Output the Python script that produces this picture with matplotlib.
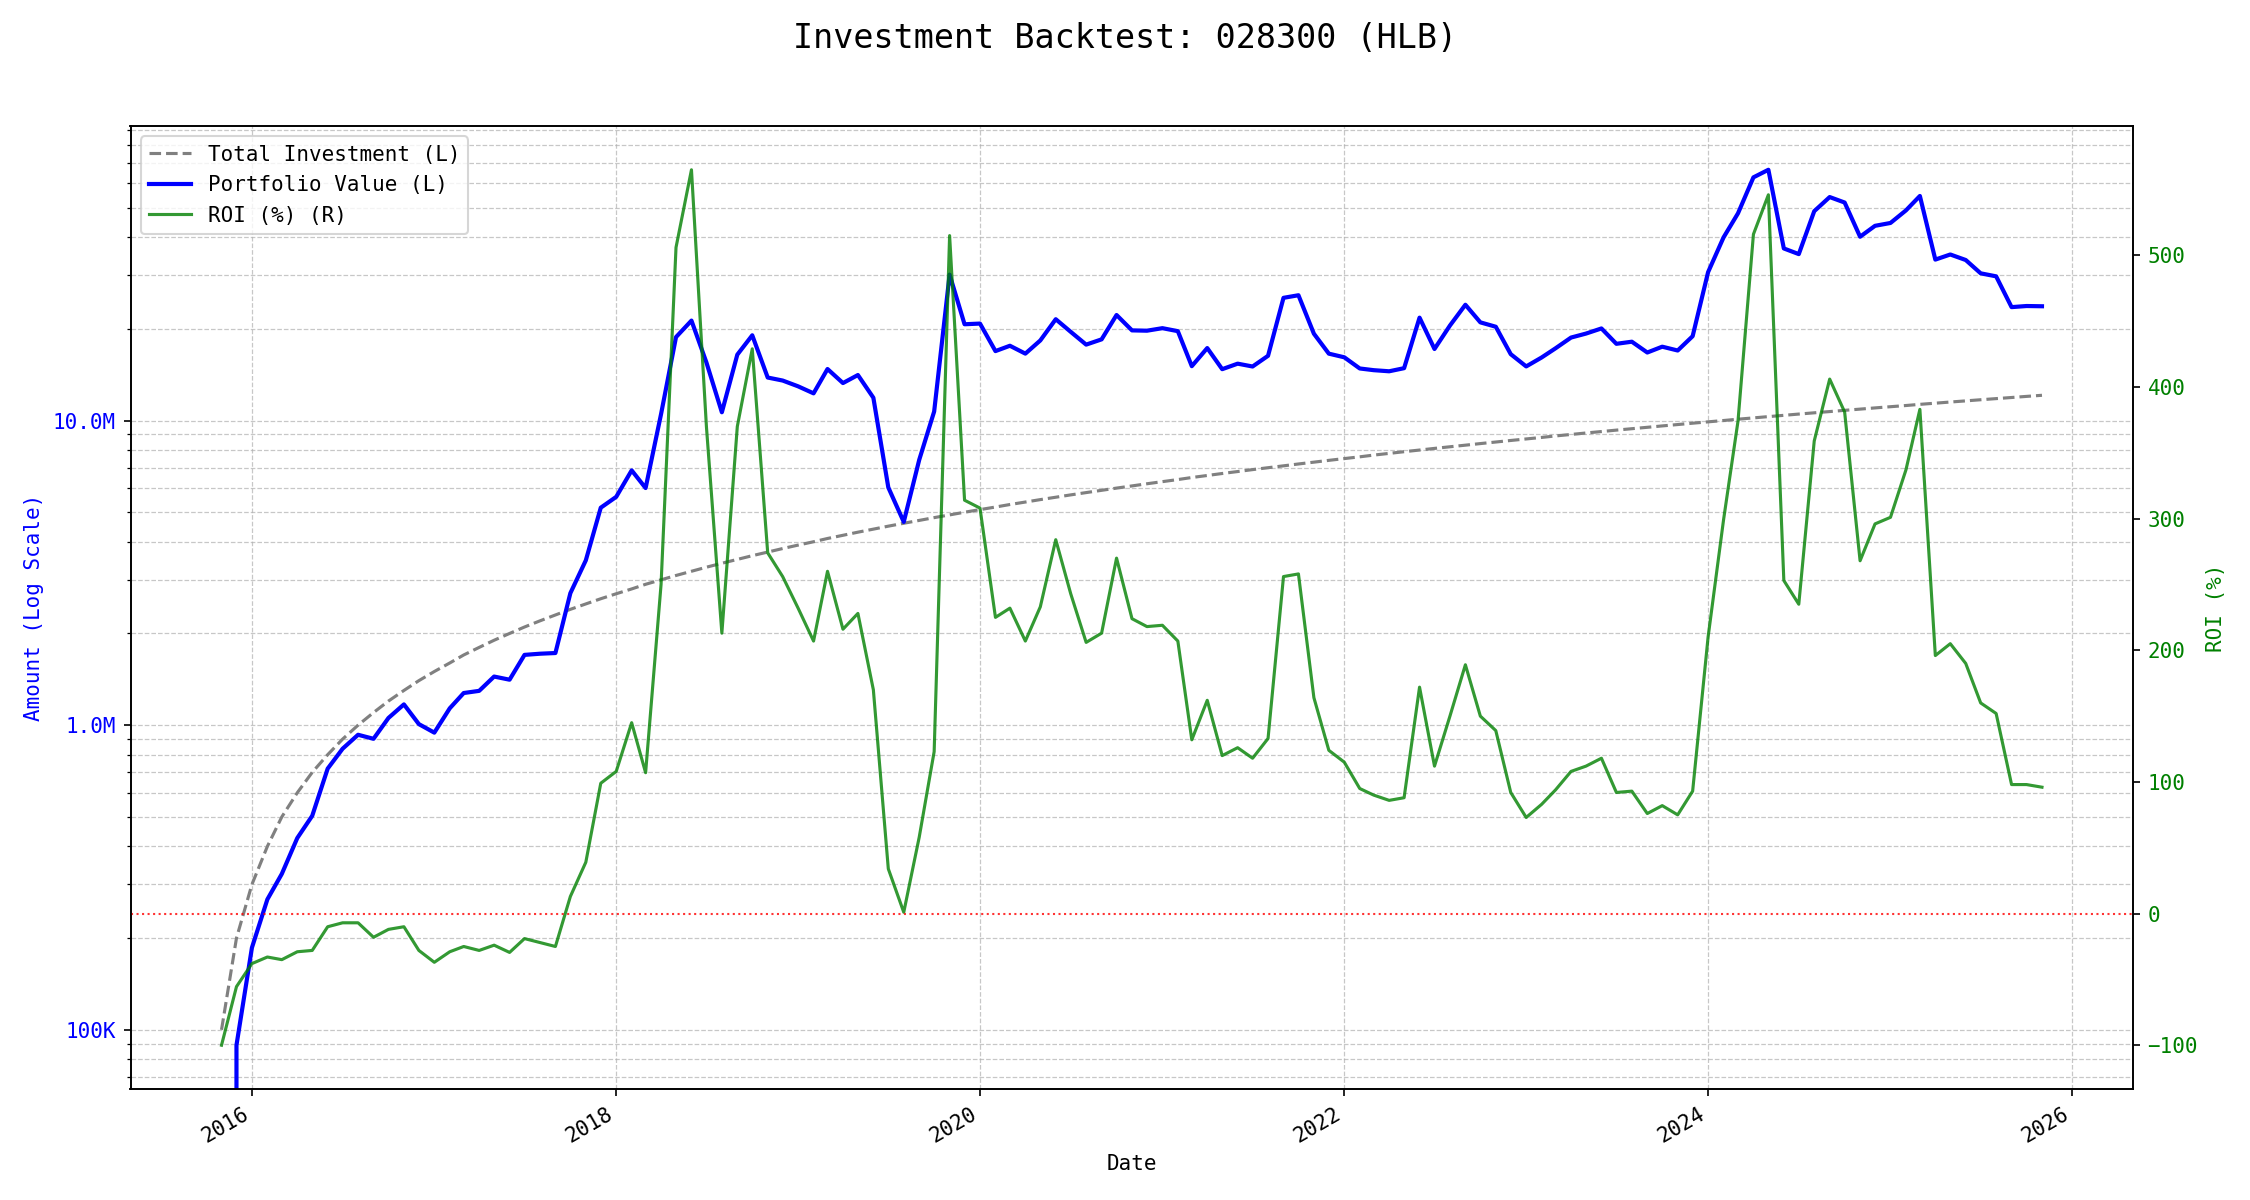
import numpy as np
import pandas as pd
import matplotlib
matplotlib.use("Agg")
from matplotlib import pyplot as plt
from matplotlib.ticker import FuncFormatter

plt.rcParams['font.family'] = ['DejaVu Sans Mono', 'DejaVu Sans']

# monthly DCA backtest, Nov 2015 .. Nov 2025
dates = pd.date_range('2015-11-01', periods=121, freq='MS')
monthly_deposit = 100_000

# ROI (%), one value per month
roi = [
    -100, -55.5, -38, -33, -35, -29, -28, -10, -7, -7,
    -18, -12, -10, -28, -37, -29, -25, -28, -24, -29.5,
    -19, -22, -25, 13, 39, 99, 108, 145, 107, 250,
    506, 565, 370, 213, 370, 429, 274, 256, 232, 207,
    260, 216, 228, 170, 34, 1, 58, 123, 515, 314,
    308, 225, 232, 207, 233, 284, 243, 206, 213, 270,
    224, 218, 219, 207, 132, 162, 120, 126, 118, 133,
    256, 258, 164, 124, 115, 95, 90, 86, 88, 172,
    112, 150, 189, 150, 139, 92, 73, 83, 94, 108,
    112, 118, 92, 93, 76, 82, 75, 93, 210, 299,
    374, 516, 546, 253, 235, 359, 406, 381, 268, 296,
    301, 337, 383, 196, 205, 190, 160, 152, 98, 98,
    96,
]

deposits = [monthly_deposit] * len(dates)
invested = np.cumsum(deposits)
value = invested * (1 + np.array(roi) / 100.0)


def amount_fmt(x, pos):
    if x >= 1e6:
        return f'{x / 1e6:.1f}M'
    return f'{x / 1e3:.0f}K'


fig, ax1 = plt.subplots(figsize=(15, 8), dpi=150)

l1, = ax1.plot(dates, invested, color='gray', linestyle='--', linewidth=1.5, label='Total Investment (L)')
l2, = ax1.plot(dates, value, color='blue', linewidth=2, label='Portfolio Value (L)')
ax1.set_yscale('log')
ax1.yaxis.set_major_formatter(FuncFormatter(amount_fmt))
ax1.set_ylabel('Amount (Log Scale)', color='blue')
ax1.tick_params(axis='y', labelcolor='blue')
ax1.set_xlabel('Date')
ax1.grid(True, which='both', linestyle='--', linewidth=0.6, alpha=0.7)

ax2 = ax1.twinx()
l3, = ax2.plot(dates, roi, color='green', alpha=0.8, linewidth=1.5, label='ROI (%) (R)')
ax2.axhline(0, color='red', linestyle=':', linewidth=1, alpha=0.8)
ax2.set_ylabel('ROI (%)', color='green')
ax2.tick_params(axis='y', labelcolor='green')

ax1.legend(handles=[l1, l2, l3], loc='upper left', fontsize=10)

fig.suptitle('Investment Backtest: 028300 (HLB)', fontsize=16, y=0.982)
fig.autofmt_xdate()
fig.subplots_adjust(left=0.058, right=0.948, bottom=0.0925, top=0.895)

plt.savefig('out.png', dpi=150)
